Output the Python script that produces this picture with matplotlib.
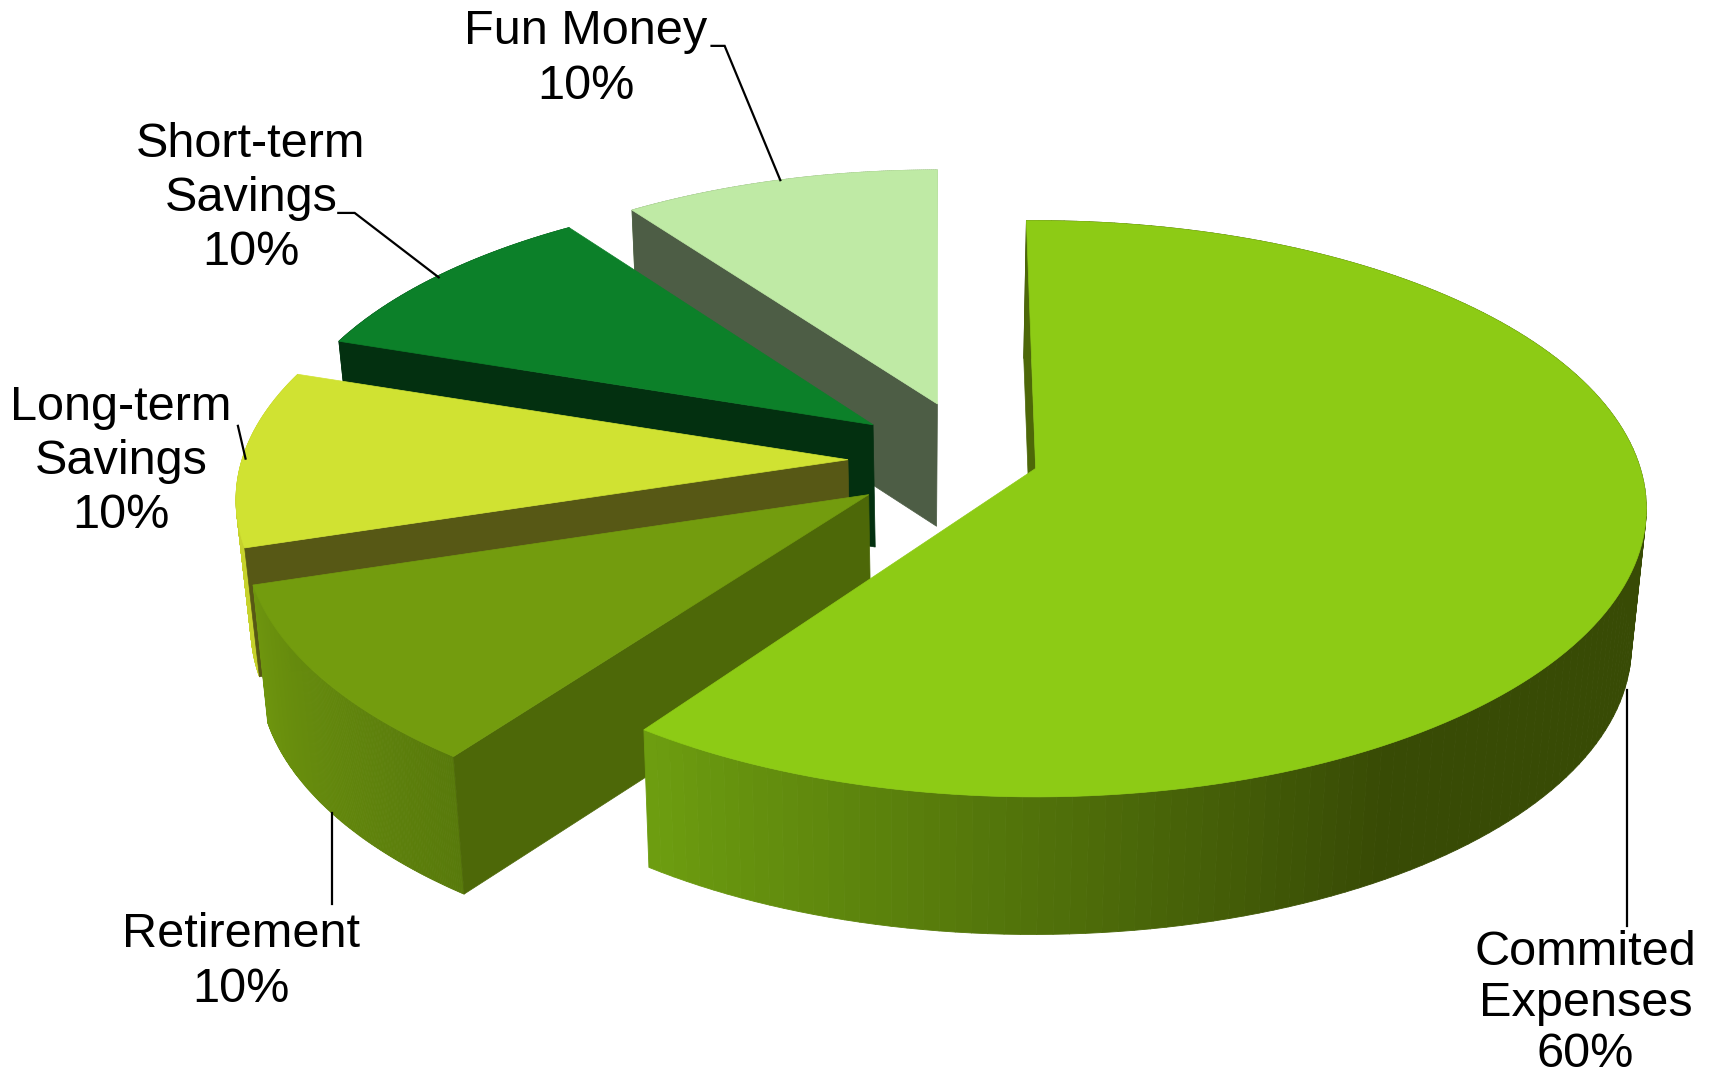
import numpy as np
import matplotlib
matplotlib.use("Agg")
import matplotlib.pyplot as plt
from matplotlib.collections import PolyCollection
from matplotlib.colors import to_rgb

categories = ["Commited\nExpenses", "Retirement", "Long-term\nSavings", "Short-term\nSavings", "Fun Money"]
shares = [60, 10, 10, 10, 10]

top_colors = ["#8DCB15", "#739C0E", "#D0E232", "#0C8029", "#BFEAA5"]
wall_colors = ["#4D6808", "#4D6808", "#575815", "#033010", "#4D5D45"]
rim_near = ["#6E9F10", "#6E950E", "#C6D22C", "#0A5A1C", "#8FB07A"]
rim_far = ["#384B05", "#587A0B", "#C6D22C", "#06401A", "#7A9A68"]

apex = [(949, 429), (796, 453), (777, 421), (800, 389), (859, 370)]
scale_x = [0.993, 1.015, 0.995, 0.97, 0.95]
scale_y = [0.995, 1.02, 0.99, 0.945, 0.94]
rotate = [-1.0, 0.6, 0.5, 1.0, 0]
depth = [126, 126, 118, 112, 112]
vanish_x = [820, 900, 900, 900, 820]
label_xy = [(1453, 919), (221, 881), (111, 423), (230, 182), (537, 54)]
line_gap = [1.17, 1.26, 1.26, 1.26, 1.26]
leaders = [
    [(1491, 632), (1491, 848)],
    [(304, 745), (304, 828)],
    [(218, 390), (225, 420)],
    [(310, 195), (325, 195), (402, 254)],
    [(652, 42), (664, 42), (715, 165)],
]

W, H = 1566, 990
RX, RY, K = 558, 260, 0.14


def project(i, phi):
    x = np.sin(phi)
    y = np.cos(phi)
    d = 1 + K * y
    return (apex[i][0] + scale_x[i] * RX * x / d, apex[i][1] - scale_y[i] * RY * y / d)


def lower(px, py, i):
    return px + 0.02 * (vanish_x[i] - px), py + depth[i]


fig = plt.figure(figsize=(17.09, 10.81), dpi=100)
ax = fig.add_axes([0, 0, 1, 1])
ax.set_xlim(0, W)
ax.set_ylim(H, 0)
ax.axis("off")

edges = np.deg2rad(np.cumsum([0] + shares) * 3.6)
order = [4, 3, 2, 1, 0]
for i in order:
    a0, a1 = edges[i] + np.deg2rad(rotate[i]), edges[i + 1] + np.deg2rad(rotate[i])
    phis = np.linspace(a0, a1, 160)
    px, py = project(i, phis)
    lx, ly = lower(px, py, i)
    ax0, ay0 = apex[i]
    bx0, by0 = lower(ax0, ay0, i)
    base = 10 * (5 - i)

    # outer rim with a shaded gradient
    quads, cols = [], []
    c0, c1 = np.array(to_rgb(rim_near[i])), np.array(to_rgb(rim_far[i]))
    for n in range(len(phis) - 1):
        quads.append([(px[n], py[n]), (px[n + 1], py[n + 1]), (lx[n + 1], ly[n + 1]), (lx[n], ly[n])])
        if i == 0:
            t = np.clip((np.rad2deg(a1) - np.rad2deg(phis[n])) / 66, 0, 1)
        else:
            t = 1 - n / (len(phis) - 2)
        cols.append(c0 + (c1 - c0) * t)
    ax.add_collection(PolyCollection(quads, facecolors=cols, edgecolors=cols, linewidths=0.6, zorder=base))

    # the cut wall that faces the viewer
    wall = [(ax0, ay0), (px[0], py[0]), (lx[0], ly[0]), (bx0, by0)]
    ax.fill(*zip(*wall), color=wall_colors[i], lw=0.5, zorder=base + 1)

    # top face
    ax.fill(np.r_[ax0, px], np.r_[ay0, py], color=top_colors[i], lw=0.5, zorder=base + 2)

for pts in leaders:
    ax.plot(*zip(*pts), color="black", lw=1.6, zorder=100, solid_joinstyle="miter")

for cat, val, (x, y), gap in zip(categories, shares, label_xy, line_gap):
    ax.text(x, y, f"{cat}\n{val}%", ha="center", va="center", family="Liberation Sans",
            fontsize=35, color="black", linespacing=gap, zorder=101)

fig.savefig("out.png", dpi=100)
